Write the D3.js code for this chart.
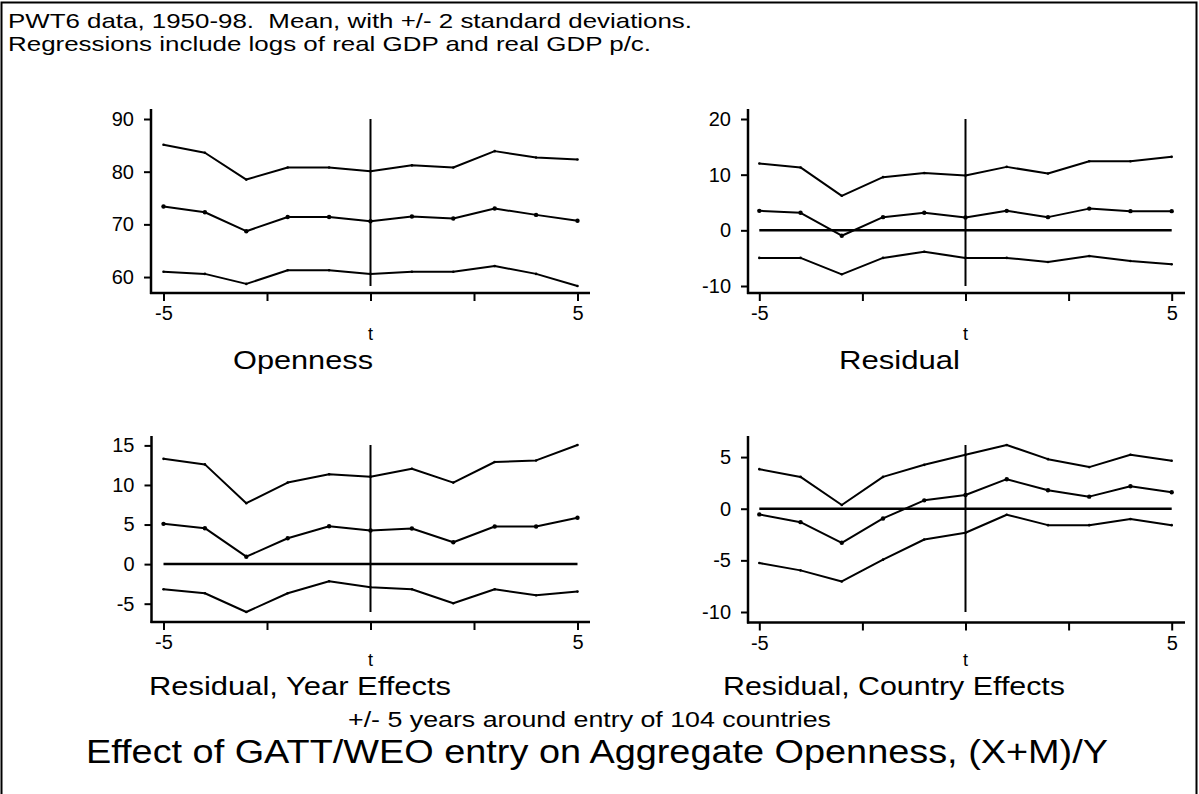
<!DOCTYPE html>
<html>
<head>
<meta charset="utf-8">
<script src="https://cdn.jsdelivr.net/npm/d3@7"></script>
<style>
  html, body { margin: 0; padding: 0; background: #fff; }
  svg { display: block; }
  text { font-family: "Liberation Sans", Arial, sans-serif; fill: #000; white-space: pre; }
</style>
</head>
<body>
<svg id="chart" width="1199" height="794"></svg>
<script>
// ---------------- data ----------------
const tValues = [-5, -4, -3, -2, -1, 0, 1, 2, 3, 4, 5];
const xTicks = [-5, -2.5, 0, 2.5, 5];
const xTickLabels = ["-5", "", "", "", "5"];

const opennessUpper = [85.1, 83.6, 78.5, 80.8, 80.8, 80.1, 81.2, 80.8, 83.9, 82.7, 82.3];
const opennessMean  = [73.4, 72.3, 68.7, 71.4, 71.4, 70.6, 71.5, 71.1, 73.0, 71.8, 70.7];
const opennessLower = [61.0, 60.6, 58.7, 61.3, 61.3, 60.6, 61.0, 61.0, 62.1, 60.6, 58.3];

const residualUpper = [12.0, 11.3, 6.2, 9.55, 10.3, 9.86, 11.4, 10.2, 12.4, 12.4, 13.2];
const residualMean  = [3.5, 3.15, -0.97, 2.37, 3.15, 2.3, 3.5, 2.37, 3.9, 3.45, 3.45];
const residualLower = [-4.95, -4.95, -7.9, -4.95, -3.86, -4.95, -4.95, -5.7, -4.6, -5.5, -6.1];

const yearUpper = [13.3, 12.6, 7.7, 10.3, 11.35, 11.05, 12.05, 10.3, 12.9, 13.1, 15.05];
const yearMean  = [5.09, 4.54, 0.94, 3.27, 4.79, 4.24, 4.5, 2.76, 4.75, 4.75, 5.85];
const yearLower = [-3.17, -3.68, -6.05, -3.68, -2.16, -2.92, -3.17, -4.95, -3.17, -3.94, -3.47];

const countryUpper = [3.83, 3.08, 0.36, 3.08, 4.25, 5.22, 6.17, 4.8, 4.03, 5.22, 4.64];
const countryMean  = [-0.55, -1.3, -3.3, -0.94, 0.81, 1.33, 2.86, 1.79, 1.17, 2.18, 1.59];
const countryLower = [-5.26, -5.97, -7.04, -4.93, -2.98, -2.33, -0.58, -1.59, -1.59, -1.0, -1.59];

const opennessTicks = [60, 70, 80, 90];
const residualTicks = [-10, 0, 10, 20];
const yearTicks     = [-5, 0, 5, 10, 15];
const countryTicks  = [-10, -5, 0, 5];

const panelTitles = ["Openness", "Residual", "Residual, Year Effects", "Residual, Country Effects"];
const xAxisTitle = "t";
const headerLines = ["PWT6 data, 1950-98.  Mean, with +/- 2 standard deviations.",
                     "Regressions include logs of real GDP and real GDP p/c."];
const noteText = "+/- 5 years around entry of 104 countries";
const mainTitle = "Effect of GATT/WEO entry on Aggregate Openness, (X+M)/Y";

// ---------------- layout ----------------
const svg = d3.select("#chart");
const FONT = "Liberation Sans, Arial, sans-serif";

// text helper: left-anchored text stretched to a given width (wide glyphs as in the original)
function wideText(x, y, str, size, width) {
  const t = svg.append("text").attr("x", x).attr("y", y).attr("font-size", size).text(str);
  if (width) t.attr("textLength", width).attr("lengthAdjust", "spacingAndGlyphs");
  return t;
}

// outer frame
svg.append("path")
  .attr("d", "M1.5,820 V2.5 H1196.5 V820")
  .attr("fill", "none").attr("stroke", "#000").attr("stroke-width", 2);

wideText(8, 28, headerLines[0], 21, 684);
wideText(8, 51, headerLines[1], 21, 643);

const panels = [
  { upper: opennessUpper, mean: opennessMean, lower: opennessLower, ticks: opennessTicks, zero: false,
    axisX: 151, x0: 163.5, x1: 577.5, axisEnd: 590, plotTop: 119, plotBottom: 286, axisY: 293, axisTop: 109,
    title: panelTitles[0], titleX: 233, titleW: 140, titleY: 369, tY: 340 },
  { upper: residualUpper, mean: residualMean, lower: residualLower, ticks: residualTicks, zero: true,
    axisX: 748, x0: 759.3, x1: 1171.7, axisEnd: 1185, plotTop: 119, plotBottom: 286, axisY: 293, axisTop: 109,
    title: panelTitles[1], titleX: 839, titleW: 121, titleY: 369, tY: 340 },
  { upper: yearUpper, mean: yearMean, lower: yearLower, ticks: yearTicks, zero: true,
    axisX: 151.5, x0: 163.5, x1: 577.5, axisEnd: 590, plotTop: 445, plotBottom: 612, axisY: 622, axisTop: 436,
    title: panelTitles[2], titleX: 149, titleW: 302, titleY: 695, tY: 666 },
  { upper: countryUpper, mean: countryMean, lower: countryLower, ticks: countryTicks, zero: true,
    axisX: 748, x0: 759.3, x1: 1171.7, axisEnd: 1185, plotTop: 445, plotBottom: 612, axisY: 622.5, axisTop: 436,
    title: panelTitles[3], titleX: 723, titleW: 342, titleY: 695, tY: 666 }
];

panels.forEach(p => {
  const g = svg.append("g");
  const x = d3.scaleLinear().domain([-5, 5]).range([p.x0, p.x1]);
  const ext = d3.extent([...p.upper, ...p.mean, ...p.lower, ...p.ticks]);
  const y = d3.scaleLinear().domain(ext).range([p.plotBottom, p.plotTop]);

  // y axis line + ticks
  g.append("line").attr("x1", p.axisX).attr("x2", p.axisX).attr("y1", p.axisTop).attr("y2", p.axisY + 1)
    .attr("stroke", "#000").attr("stroke-width", 2.5);
  const yAxis = d3.axisLeft(y).tickValues(p.ticks).tickSize(7).tickPadding(10).tickFormat(d => String(d));
  const ya = g.append("g").attr("transform", `translate(${p.axisX},0)`).call(yAxis);
  ya.select(".domain").remove();
  ya.selectAll(".tick line").attr("stroke", "#000").attr("stroke-width", 2);
  ya.selectAll(".tick text").attr("font-size", 20).attr("font-family", FONT).attr("fill", "#000");

  // x axis line + ticks
  g.append("line").attr("x1", p.axisX - 1).attr("x2", p.axisEnd).attr("y1", p.axisY).attr("y2", p.axisY)
    .attr("stroke", "#000").attr("stroke-width", 2.5);
  const xAxis = d3.axisBottom(x).tickValues(xTicks).tickSize(8).tickPadding(5)
    .tickFormat((d, i) => xTickLabels[i]);
  const xa = g.append("g").attr("transform", `translate(0,${p.axisY})`).call(xAxis);
  xa.select(".domain").remove();
  xa.selectAll(".tick line").attr("stroke", "#000").attr("stroke-width", 2);
  xa.selectAll(".tick text").attr("font-size", 20).attr("font-family", FONT).attr("fill", "#000");

  // zero line
  if (p.zero) {
    g.append("line").attr("x1", x(-5)).attr("x2", x(5)).attr("y1", y(0)).attr("y2", y(0))
      .attr("stroke", "#000").attr("stroke-width", 2.5);
  }
  // vertical line at t = 0
  g.append("line").attr("x1", x(0)).attr("x2", x(0)).attr("y1", p.plotTop).attr("y2", p.plotBottom)
    .attr("stroke", "#000").attr("stroke-width", 2);

  const line = d3.line().x((d, i) => x(tValues[i])).y(d => y(d));
  [p.upper, p.mean, p.lower].forEach((series, si) => {
    g.append("path").datum(series).attr("d", line)
      .attr("fill", "none").attr("stroke", "#000").attr("stroke-width", 2).attr("stroke-linejoin", "round");
    g.selectAll(null).data(series).enter().append("circle")
      .attr("cx", (d, i) => x(tValues[i])).attr("cy", d => y(d))
      .attr("r", si === 1 ? 2.2 : 1.3).attr("fill", "#000");
  });

  // axis title
  g.append("text").attr("x", x(0)).attr("y", p.tY).attr("text-anchor", "middle").attr("font-size", 18).text(xAxisTitle);
  // panel title
  wideText(p.titleX, p.titleY, p.title, 26, p.titleW);
});

wideText(348, 727, noteText, 22, 483);
wideText(86, 763, mainTitle, 34, 1022);
</script>
</body>
</html>
